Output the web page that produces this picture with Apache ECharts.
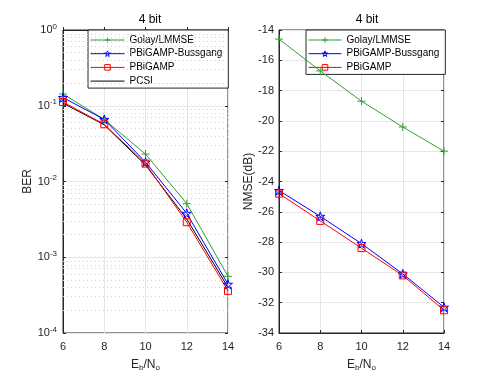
<!DOCTYPE html>
<html>
<head>
<meta charset="utf-8">
<script src="https://cdn.jsdelivr.net/npm/echarts@6/dist/echarts.min.js"></script>
<style>
  html, body { margin: 0; padding: 0; background: #fff; }
  #chart { width: 491px; height: 377px; }
</style>
</head>
<body>
<div id="chart"></div>
<script>
// Eb/No points
const ebno = [6, 8, 10, 12, 14];

// BER (left panel)
const berGolay = [0.143, 0.066, 0.023, 0.0051, 0.00056];
const berBussgang = [0.128, 0.066, 0.018, 0.0038, 0.00044];
const berPBiGAMP = [0.112, 0.057, 0.0172, 0.0029, 0.00036];
const berPCSI = [0.108, 0.056, 0.0165, 0.0032, 0.00040];

// NMSE in dB (right panel)
const nmseGolay = [-14.6, -16.7, -18.7, -20.4, -22.0];
const nmseBussgang = [-24.6, -26.3, -28.1, -30.1, -32.3];
const nmsePBiGAMP = [-24.8, -26.6, -28.4, -30.2, -32.5];

// minor grid levels on the log axis (in decades, for the hidden helper axis)
const minorLevels = [];
for (let e = -4; e < 0; e++) {
  for (let k = 2; k <= 9; k++) minorLevels.push(Math.log10(k * Math.pow(10, e)));
}

const FONT = 'Liberation Sans';
const AX = '#262626';
const GREEN = '#2ca02c', BLUE = '#0000ff', RED = '#ff0000';
const CLEAR = 'rgba(0,0,0,0)';

const PLUS = 'path://M0,5L10,5M5,0L5,10';
const STAR = 'path://M50,0L61,35L98,35L68,57L79,91L50,70L21,91L32,57L2,35L39,35Z';

const pairs = (ys) => ebno.map((x, i) => [x, ys[i]]);

const mkSeries = (name, ys, color, symbol, size, idx, showSymbol = true) => ({
  name,
  type: 'line',
  xAxisIndex: idx,
  yAxisIndex: idx,
  data: pairs(ys),
  color,
  symbol,
  symbolSize: size,
  showSymbol,
  lineStyle: { width: 1, color },
  itemStyle: { color: CLEAR, borderColor: color, borderWidth: 1 },
  emphasis: { disabled: true },
  animation: false,
  z: 5
});

const tick = { show: true, inside: true, length: 3, lineStyle: { color: AX } };

const xAxisBase = (gridIndex) => ({
  gridIndex,
  type: 'value',
  min: 6,
  max: 14,
  interval: 2,
  name: 'E{sub|b}/N{sub|o}',
  nameLocation: 'middle',
  nameGap: 24,
  nameTextStyle: {
    fontFamily: FONT, fontSize: 12, color: AX,
    rich: { sub: { fontFamily: FONT, fontSize: 8, color: AX, padding: [7, 0, 0, 0] } }
  },
  axisLine: { show: true, lineStyle: { color: AX, width: 1 } },
  axisTick: tick,
  axisLabel: { fontFamily: FONT, fontSize: 11, color: AX, margin: 8 },
  splitLine: { show: true, lineStyle: { color: '#e6e6e6', width: 1 } }
});

// mirrored axes: ticks only, on top / right edges
const xAxisTop = (gridIndex) => ({
  gridIndex, type: 'value', position: 'top', min: 6, max: 14, interval: 2,
  axisLine: { show: false }, axisTick: tick, axisLabel: { show: false }, splitLine: { show: false }
});

const legendBase = {
  orient: 'vertical',
  top: 30,
  itemWidth: 34, itemHeight: 7, itemGap: 2.7,
  padding: [4.5, 6, 1.5, 2],
  backgroundColor: '#fff',
  borderColor: AX, borderWidth: 1, borderRadius: 0,
  lineStyle: { width: 1 },
  itemStyle: { borderWidth: 1 },
  textStyle: { fontFamily: FONT, fontSize: 10, lineHeight: 11, color: '#000' },
  selectedMode: false
};

const chart = echarts.init(document.getElementById('chart'), null, { renderer: 'canvas' });

chart.setOption({
  backgroundColor: '#fff',
  animation: false,
  title: [
    { text: '4 bit', left: 145, top: 9, textAlign: 'center',
      textStyle: { fontFamily: FONT, fontSize: 12, fontWeight: 'normal', color: '#000' } },
    { text: '4 bit', left: 362, top: 9, textAlign: 'center',
      textStyle: { fontFamily: FONT, fontSize: 12, fontWeight: 'normal', color: '#000' } }
  ],
  grid: [
    { left: 63, top: 30, width: 165, height: 305, show: true, borderColor: AX, borderWidth: 1, backgroundColor: '#fff' },
    { left: 279, top: 30, width: 165, height: 305, show: true, borderColor: AX, borderWidth: 1, backgroundColor: '#fff' }
  ],
  xAxis: [xAxisBase(0), xAxisBase(1), xAxisTop(0), xAxisTop(1)],
  yAxis: [
    {
      gridIndex: 0,
      type: 'log',
      logBase: 10,
      min: 1e-4,
      max: 1,
      name: 'BER',
      nameLocation: 'middle',
      nameGap: 20,
      nameTextStyle: { fontFamily: FONT, fontSize: 12, color: AX },
      axisLine: { show: true, lineStyle: { color: AX, width: 1 } },
      axisTick: tick,
      minorTick: { show: false },
      axisLabel: {
        fontFamily: FONT, fontSize: 11, color: AX, margin: 6,
        formatter: (v) => '10{sup|' + Math.round(Math.log10(v)) + '}',
        rich: { sup: { fontFamily: FONT, fontSize: 8, color: AX, padding: [0, 0, 7, 0] } }
      },
      splitLine: { show: true, lineStyle: { color: '#e6e6e6', width: 1 } }
    },
    {
      gridIndex: 1,
      type: 'value',
      min: -34,
      max: -14,
      interval: 2,
      name: 'NMSE(dB)',
      nameLocation: 'middle',
      nameGap: 23,
      nameTextStyle: { fontFamily: FONT, fontSize: 12, color: AX },
      axisLine: { show: true, lineStyle: { color: AX, width: 1 } },
      axisTick: tick,
      axisLabel: { fontFamily: FONT, fontSize: 11, color: AX, margin: 5 },
      splitLine: { show: true, lineStyle: { color: '#e6e6e6', width: 1 } }
    },
    // hidden helper axis in decades, used for the dotted minor grid of the log panel
    { gridIndex: 0, type: 'value', min: -4, max: 0, show: false },
    {
      gridIndex: 0, type: 'log', logBase: 10, min: 1e-4, max: 1, position: 'right',
      axisLine: { show: false }, axisTick: tick, axisLabel: { show: false }, splitLine: { show: false }
    },
    {
      gridIndex: 1, type: 'value', min: -34, max: -14, interval: 2, position: 'right',
      axisLine: { show: false }, axisTick: tick, axisLabel: { show: false }, splitLine: { show: false }
    }
  ],
  legend: [
    Object.assign({}, legendBase, {
      data: ['Golay/LMMSE', 'PBiGAMP-Bussgang', 'PBiGAMP',
        { name: 'PCSI', itemStyle: { color: CLEAR, borderColor: CLEAR } }],
      left: 88
    }),
    Object.assign({}, legendBase, {
      data: ['Golay/LMMSE', 'PBiGAMP-Bussgang', 'PBiGAMP'],
      left: 306,
      itemWidth: 33
    })
  ],
  series: [
    {
      type: 'line',
      xAxisIndex: 0,
      yAxisIndex: 2,
      data: [],
      silent: true,
      markLine: {
        silent: true,
        symbol: 'none',
        label: { show: false },
        animation: false,
        lineStyle: { type: [1, 3], color: '#d0d0d0', width: 1 },
        data: minorLevels.map((v) => ({ yAxis: v }))
      },
      z: 1
    },
    mkSeries('PCSI', berPCSI, '#000000', 'circle', 6, 0, false),
    mkSeries('Golay/LMMSE', berGolay, GREEN, PLUS, 8, 0),
    mkSeries('PBiGAMP-Bussgang', berBussgang, BLUE, STAR, 9, 0),
    mkSeries('PBiGAMP', berPBiGAMP, RED, 'rect', 7, 0),
    mkSeries('Golay/LMMSE', nmseGolay, GREEN, PLUS, 8, 1),
    mkSeries('PBiGAMP-Bussgang', nmseBussgang, BLUE, STAR, 9, 1),
    mkSeries('PBiGAMP', nmsePBiGAMP, RED, 'rect', 7, 1)
  ]
});
</script>
</body>
</html>
